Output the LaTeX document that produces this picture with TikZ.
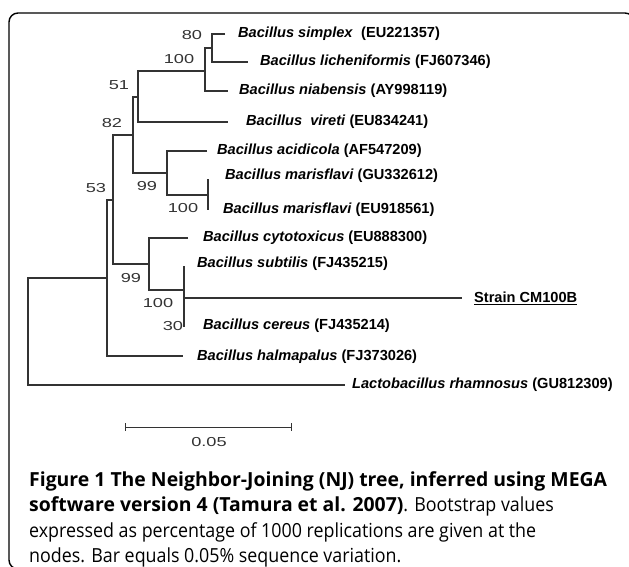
\documentclass[tikz,border=0pt]{standalone}
\usepackage{fontspec}
\setmainfont{Liberation Sans}
\newfontfamily\bootfont[FakeStretch=1.4]{Liberation Sans}
\newfontfamily\capfont[FakeStretch=0.92]{Open Sans}
\newfontfamily\capbold{Open Sans}
\usetikzlibrary{positioning}

\tikzset{
  branch/.style={draw=black!80, line width=1.2pt},
  taxon/.style={anchor=west, inner sep=0pt, font=\fontsize{14.6}{17}\selectfont\bfseries},
  boot/.style={inner sep=0pt, text=black!80, font=\fontsize{13}{15}\selectfont\bootfont},
}
\newcommand{\spname}[2]{\textit{#1} #2}
\newcommand{\capbf}[1]{{\capbold\bfseries #1}}

\begin{document}
\begin{tikzpicture}[x=1pt, y=-1pt]
  \useasboundingbox (0,0) rectangle (629,567);
  % frame
  \draw[line width=1.4pt, rounded corners=9pt] (9,13) rectangle (634,569);

  % internal nodes
  \coordinate (nR) at (28,278);
  \coordinate (nH) at (107,278);
  \coordinate (nG) at (113,200);
  \coordinate (nD) at (133,135);
  \coordinate (nC) at (138,97);
  \coordinate (nB) at (205,71);
  \coordinate (nA) at (212,48);
  \coordinate (nE) at (167,173);
  \coordinate (nF) at (208,195);
  \coordinate (nI) at (149,264);
  \coordinate (nJ) at (184,290);

  % tips
  \coordinate (tSim) at (225,34);
  \coordinate (tLic) at (248,62);
  \coordinate (tNia) at (228,91);
  \coordinate (tVir) at (228,122);
  \coordinate (tAci) at (207,151);
  \coordinate (tMa1) at (208,179);
  \coordinate (tMa2) at (208,210);
  \coordinate (tCyt) at (188,238);
  \coordinate (tSub) at (184,266);
  \coordinate (tStr) at (462,298);
  \coordinate (tCer) at (184,327);
  \coordinate (tHal) at (183,356);
  \coordinate (tLac) at (345,385);

  % branches
  \draw[branch] (nH) -| (nR) |- (tLac);
  \draw[branch] (nG) -| (nH) |- (tHal);
  \draw[branch] (nD) -| (nG) |- (nI);
  \draw[branch] (nC) -| (nD) |- (nE);
  \draw[branch] (nB) -| (nC) |- (tVir);
  \draw[branch] (nA) -| (nB) |- (tNia);
  \draw[branch] (tSim) -| (nA) |- (tLic);
  \draw[branch] (tAci) -| (nE) |- (nF);
  \draw[branch] (tMa1) -- (tMa2);
  \draw[branch] (tCyt) -| (nI) |- (nJ);
  \draw[branch] (tSub) -- (tCer);
  \draw[branch] (tSub |- tStr) -- (tStr);

  % taxa
  \node[taxon] (lSim) at (238,34) {\spname{Bacillus simplex}{\ (EU221357)}};
  \node[taxon] (lLic) at (260,62) {\spname{Bacillus licheniformis}{(FJ607346)}};
  \node[taxon] (lNia) at (239,91) {\spname{Bacillus niabensis}{(AY998119)}};
  \node[taxon] (lVir) at (246,122) {\spname{Bacillus\ \ vireti}{(EU834241)}};
  \node[taxon] (lAci) at (217,151) {\spname{Bacillus acidicola}{(AF547209)}};
  \node[taxon] (lMa1) at (225,176) {\spname{Bacillus marisflavi}{(GU332612)}};
  \node[taxon] (lMa2) at (223,210) {\spname{Bacillus marisflavi}{(EU918561)}};
  \node[taxon] (lCyt) at (203,238) {\spname{Bacillus cytotoxicus}{(EU888300)}};
  \node[taxon] (lSub) at (197,264) {\spname{Bacillus subtilis}{(FJ435215)}};
  \node[taxon] (lStr) at (474,298) {\underline{Strain CM100B}};
  \node[taxon] (lCer) at (203,326) {\spname{Bacillus cereus}{(FJ435214)}};
  \node[taxon] (lHal) at (197,357) {\spname{Bacillus halmapalus}{(FJ373026)}};
  \node[taxon] (lLac) at (352,385) {\spname{Lactobacillus rhamnosus}{(GU812309)}};

  % bootstrap values
  \node[boot] (b80) at (192,35) {80};
  \node[boot] (b100a) at (179,59) {100};
  \node[boot] (b51) at (119,85) {51};
  \node[boot] (b82) at (112,123) {82};
  \node[boot] (b53) at (96,188) {53};
  \node[boot] (b99a) at (147,186) {99};
  \node[boot] (b100b) at (183,208) {100};
  \node[boot] (b99b) at (131,278) {99};
  \node[boot] (b100c) at (158,303) {100};
  \node[boot] (b30) at (173,326) {30};

  % scale bar
  \coordinate (sL) at (125,427);
  \coordinate (sR) at (292,427);
  \draw[branch, line width=1pt, |-|] (sL) -- (sR);
  \node[boot] (sLab) at (209,442) {0.05};

  % caption
  \node[anchor=north west, inner sep=0pt, align=left,
        font=\fontsize{19.4}{25.5}\selectfont\capfont] (cap) at (29,471)
    {\capbf{Figure 1 The Neighbor-Joining (NJ) tree, inferred using MEGA}\\
     \capbf{software version 4 (Tamura et al. 2007)}. Bootstrap values\\
     expressed as percentage of 1000 replications are given at the\\
     nodes. Bar equals 0.05\% sequence variation.};
\end{tikzpicture}
\end{document}
